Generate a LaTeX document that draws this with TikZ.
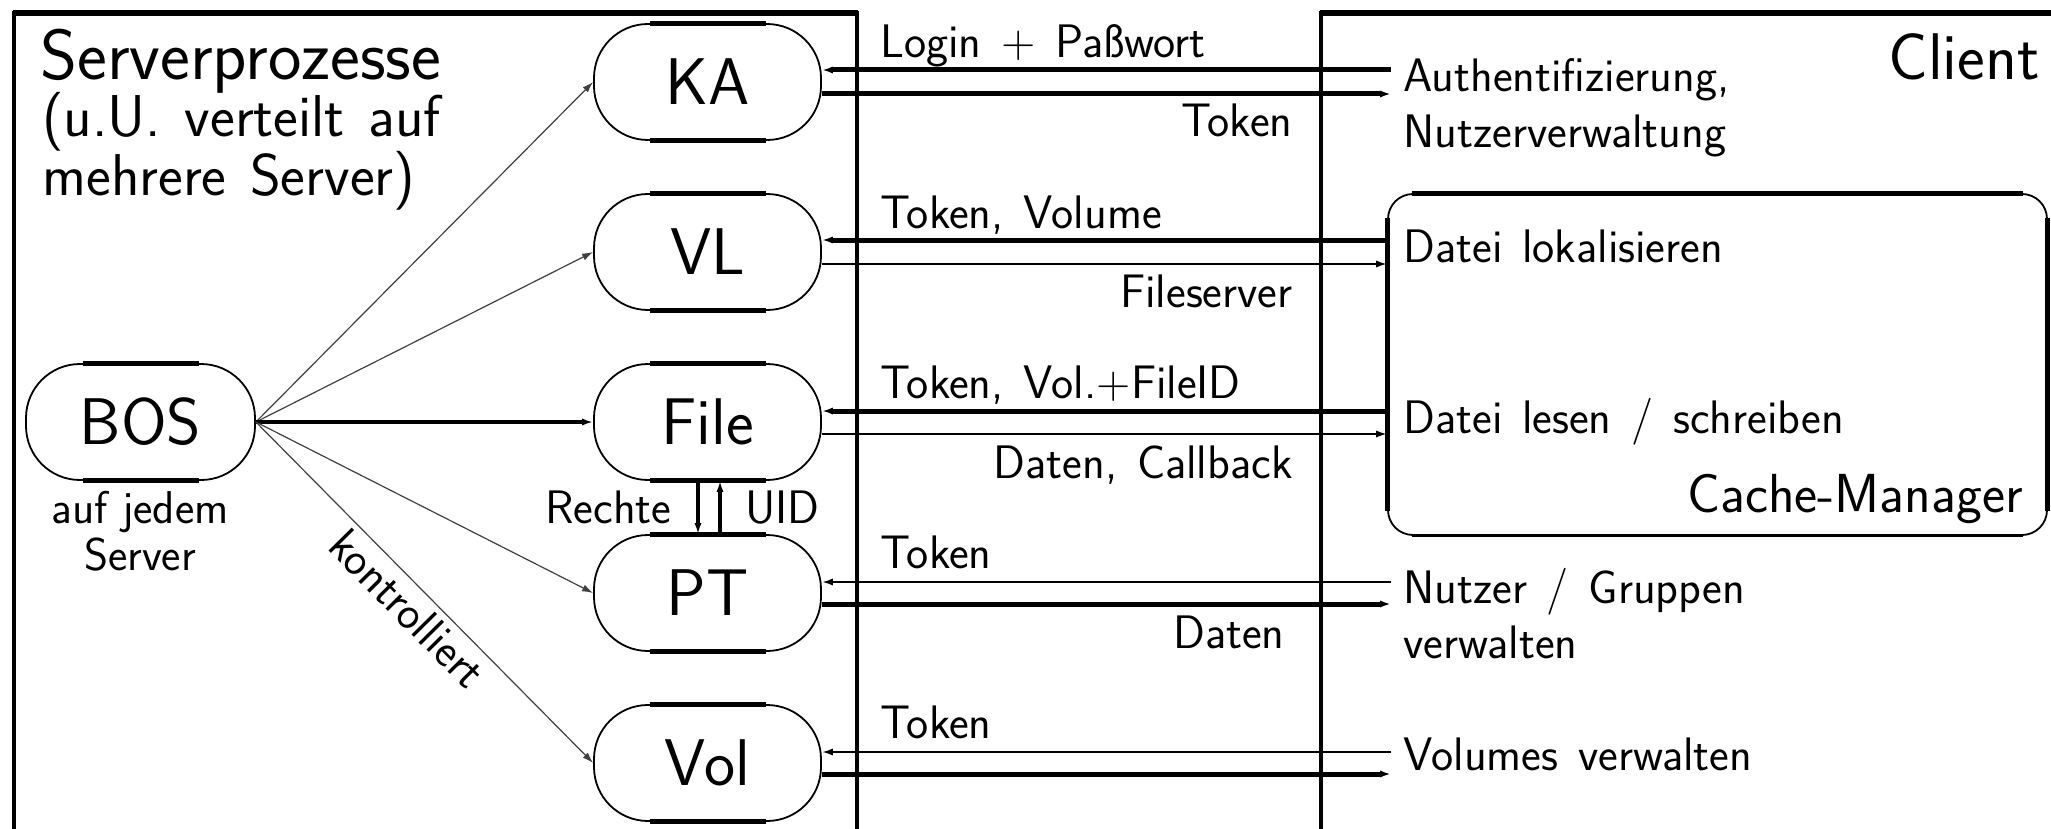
\documentclass[tikz,border=0pt]{standalone}
\usepackage{fontspec}
\usetikzlibrary{arrows.meta}
\newcommand\fbig{\fontsize{33}{40}\selectfont}
\newcommand\fhead{\fontsize{35.5}{40}\selectfont}
\newcommand\fmed{\fontsize{23.5}{28}\selectfont\spaceskip=0.42em plus 0.1em\relax}
\newcommand\fsml{\fontsize{23}{26}\selectfont}
\newcommand\fcm{\fontsize{27.5}{32}\selectfont}
\newcommand\fsub{\fontsize{29.5}{32}\selectfont\spaceskip=0.4em plus 0.1em\relax}
\begin{document}
\begin{tikzpicture}[x=0.5pt,y=-0.5pt, font=\sffamily,
  proc/.style={draw, line width=0.9pt, rounded corners=27pt, minimum width=113.5pt,
    minimum height=58pt, inner sep=0pt, font=\sffamily\fbig},
  thk/.style={line width=2.5pt},
  thn/.style={line width=1pt},
  hair/.style={line width=0.6pt, draw=black!75},
  tip/.style={-{Latex[length=5.5pt,width=3.6pt]}},
  lbl/.style={inner sep=0pt, font=\sffamily\fmed},
  frame/.style={line width=2.2pt, line join=miter},
  topline/.style={line width=3.2pt},
  ]
\useasboundingbox (0,0) rectangle (2051,829);

% frames
\draw[frame] (14,829) -- (14,13) -- (857,13) -- (857,829);
\draw[topline] (13,13) -- (858,13);
\draw[frame] (1321,829) -- (1321,13) -- (2051,13);
\draw[topline] (1320,13) -- (2051,13);

% process nodes
\node[proc] (KA)   at (707.5,82)  {KA};
\node[proc] (VL)   at (707.5,252) {VL};
\node[proc] (File) at (707.5,422) {File};
\node[proc] (PT)   at (707.5,593) {PT};
\node[proc] (Vol)  at (707.5,763) {Vol};
\node[proc, minimum width=114.5pt] (BOS) at (140.5,422) {BOS};
\foreach \n in {KA,VL,File,PT,Vol,BOS}{
  \draw[thk] ([xshift=-29pt]\n.north) -- ([xshift=29pt]\n.north);
  \draw[thk] ([xshift=-29pt]\n.south) -- ([xshift=29pt]\n.south);
}

% cache manager box
\node[draw, line width=0.9pt, rounded corners=12.5pt, minimum width=329.5pt,
  minimum height=170.5pt, inner sep=0pt] (CM) at (1717.5,364.5) {};
\draw[thk] ([xshift=12.5pt]CM.north west) -- ([xshift=-12.5pt]CM.north east);
\draw[thk] ([yshift=-12.5pt]CM.north west) -- ([yshift=12.5pt]CM.south west);
\draw[thk] ([yshift=-12.5pt]CM.north east) -- ([yshift=12.5pt]CM.south east);
\draw[line width=1.3pt] ([xshift=12.5pt]CM.south west) -- ([xshift=-12.5pt]CM.south east);

% left texts
\node[inner sep=0pt, font=\sffamily\fhead, anchor=base west] (t1) at (40,80) {Serverprozesse};
\node[inner sep=0pt, font=\sffamily\fsub, anchor=base west] (t2) at (42,137) {(u.U. verteilt auf};
\node[inner sep=0pt, font=\sffamily\fsub, anchor=base west] (t3) at (42,195) {mehrere Server)};
\node[inner sep=0pt, font=\sffamily\fsml, anchor=base] (b1) at (140,523) {auf jedem};
\node[inner sep=0pt, font=\sffamily\fsml, anchor=base] (b2) at (140,570) {Server};

% BOS connectors
\draw[hair, tip] (BOS.east) -- (KA.west);
\draw[hair, tip] (BOS.east) -- (VL.west);
\draw[line width=2.2pt, tip] (BOS.east) -- (File.west);
\draw[hair, tip] (BOS.east) -- (PT.west);
\draw[hair, tip] (BOS.east) -- node[sloped, below, inner sep=3pt, font=\sffamily\fmed, pos=0.5] (kon) {kontrolliert} (Vol.west);

% File <-> PT
\draw[line width=2pt, tip] ([xshift=-4.75pt]File.south) -- ([xshift=-4.75pt]PT.north);
\draw[line width=2pt, tip] ([xshift=6.25pt]PT.north) -- ([xshift=6.25pt]File.south);
\node[lbl, anchor=base east] (lR) at (672,523) {Rechte};
\node[lbl, anchor=base west] (lU) at (745,523) {UID};

% client-side end points
\coordinate (aKA) at (1391,70);  \coordinate (bKA) at (1391,94);
\coordinate (aVL) at (CM.west |- 0,240); \coordinate (bVL) at (CM.west |- 0,264);
\coordinate (aFi) at (CM.west |- 0,411); \coordinate (bFi) at (CM.west |- 0,434);
\coordinate (aPT) at (1391,582); \coordinate (bPT) at (1391,604);
\coordinate (aVo) at (1391,752); \coordinate (bVo) at (1391,774);

% KA
\draw[thk, tip] (aKA) -- (KA.east |- aKA);
\draw[thk, tip] (KA.east |- bKA) -- (bKA);
% VL
\draw[thk, tip] (aVL) -- (VL.east |- aVL);
\draw[thn, tip] (VL.east |- bVL) -- (bVL);
% File
\draw[thk, tip] (aFi) -- (File.east |- aFi);
\draw[thn, tip] (File.east |- bFi) -- (bFi);
% PT
\draw[thn, tip] (aPT) -- (PT.east |- aPT);
\draw[thk, tip] (PT.east |- bPT) -- (bPT);
% Vol
\draw[thn, tip] (aVo) -- (Vol.east |- aVo);
\draw[thk, tip] (Vol.east |- bVo) -- (bVo);

% message labels
\node[lbl, anchor=base west] (m1) at (880,58)  {Login + Paßwort};
\node[lbl, anchor=base east] (m2) at (1293,137) {Token};
\node[lbl, anchor=base west] (m3) at (880,228) {Token, Volume};
\node[lbl, anchor=base east] (m4) at (1293,307) {Fileserver};
\node[lbl, anchor=base west] (m5) at (880,398) {Token, Vol.+FileID};
\node[lbl, anchor=base east] (m6) at (1293,478) {Daten, Callback};
\node[lbl, anchor=base west] (m7) at (880,568) {Token};
\node[lbl, anchor=base east] (m8) at (1285,648) {Daten};
\node[lbl, anchor=base west] (m9) at (880,738) {Token};

% client texts
\node[inner sep=0pt, font=\sffamily\fbig, anchor=base east] (cl) at (2040,80) {Client};
\node[lbl, anchor=base west] (c1) at (1403,92)  {Authentifizierung,};
\node[lbl, anchor=base west] (c2) at (1403,148) {Nutzerverwaltung};
\node[lbl, anchor=base west] (c3) at (1403,262) {Datei lokalisieren};
\node[lbl, anchor=base west] (c4) at (1403,433) {Datei lesen / schreiben};
\node[inner sep=0pt, font=\sffamily\fcm, anchor=base east] (c5) at (2023,512) {Cache-Manager};
\node[lbl, anchor=base west] (c6) at (1403,603) {Nutzer / Gruppen};
\node[lbl, anchor=base west] (c7) at (1403,658) {verwalten};
\node[lbl, anchor=base west] (c8) at (1403,770) {Volumes verwalten};
\end{tikzpicture}
\end{document}
